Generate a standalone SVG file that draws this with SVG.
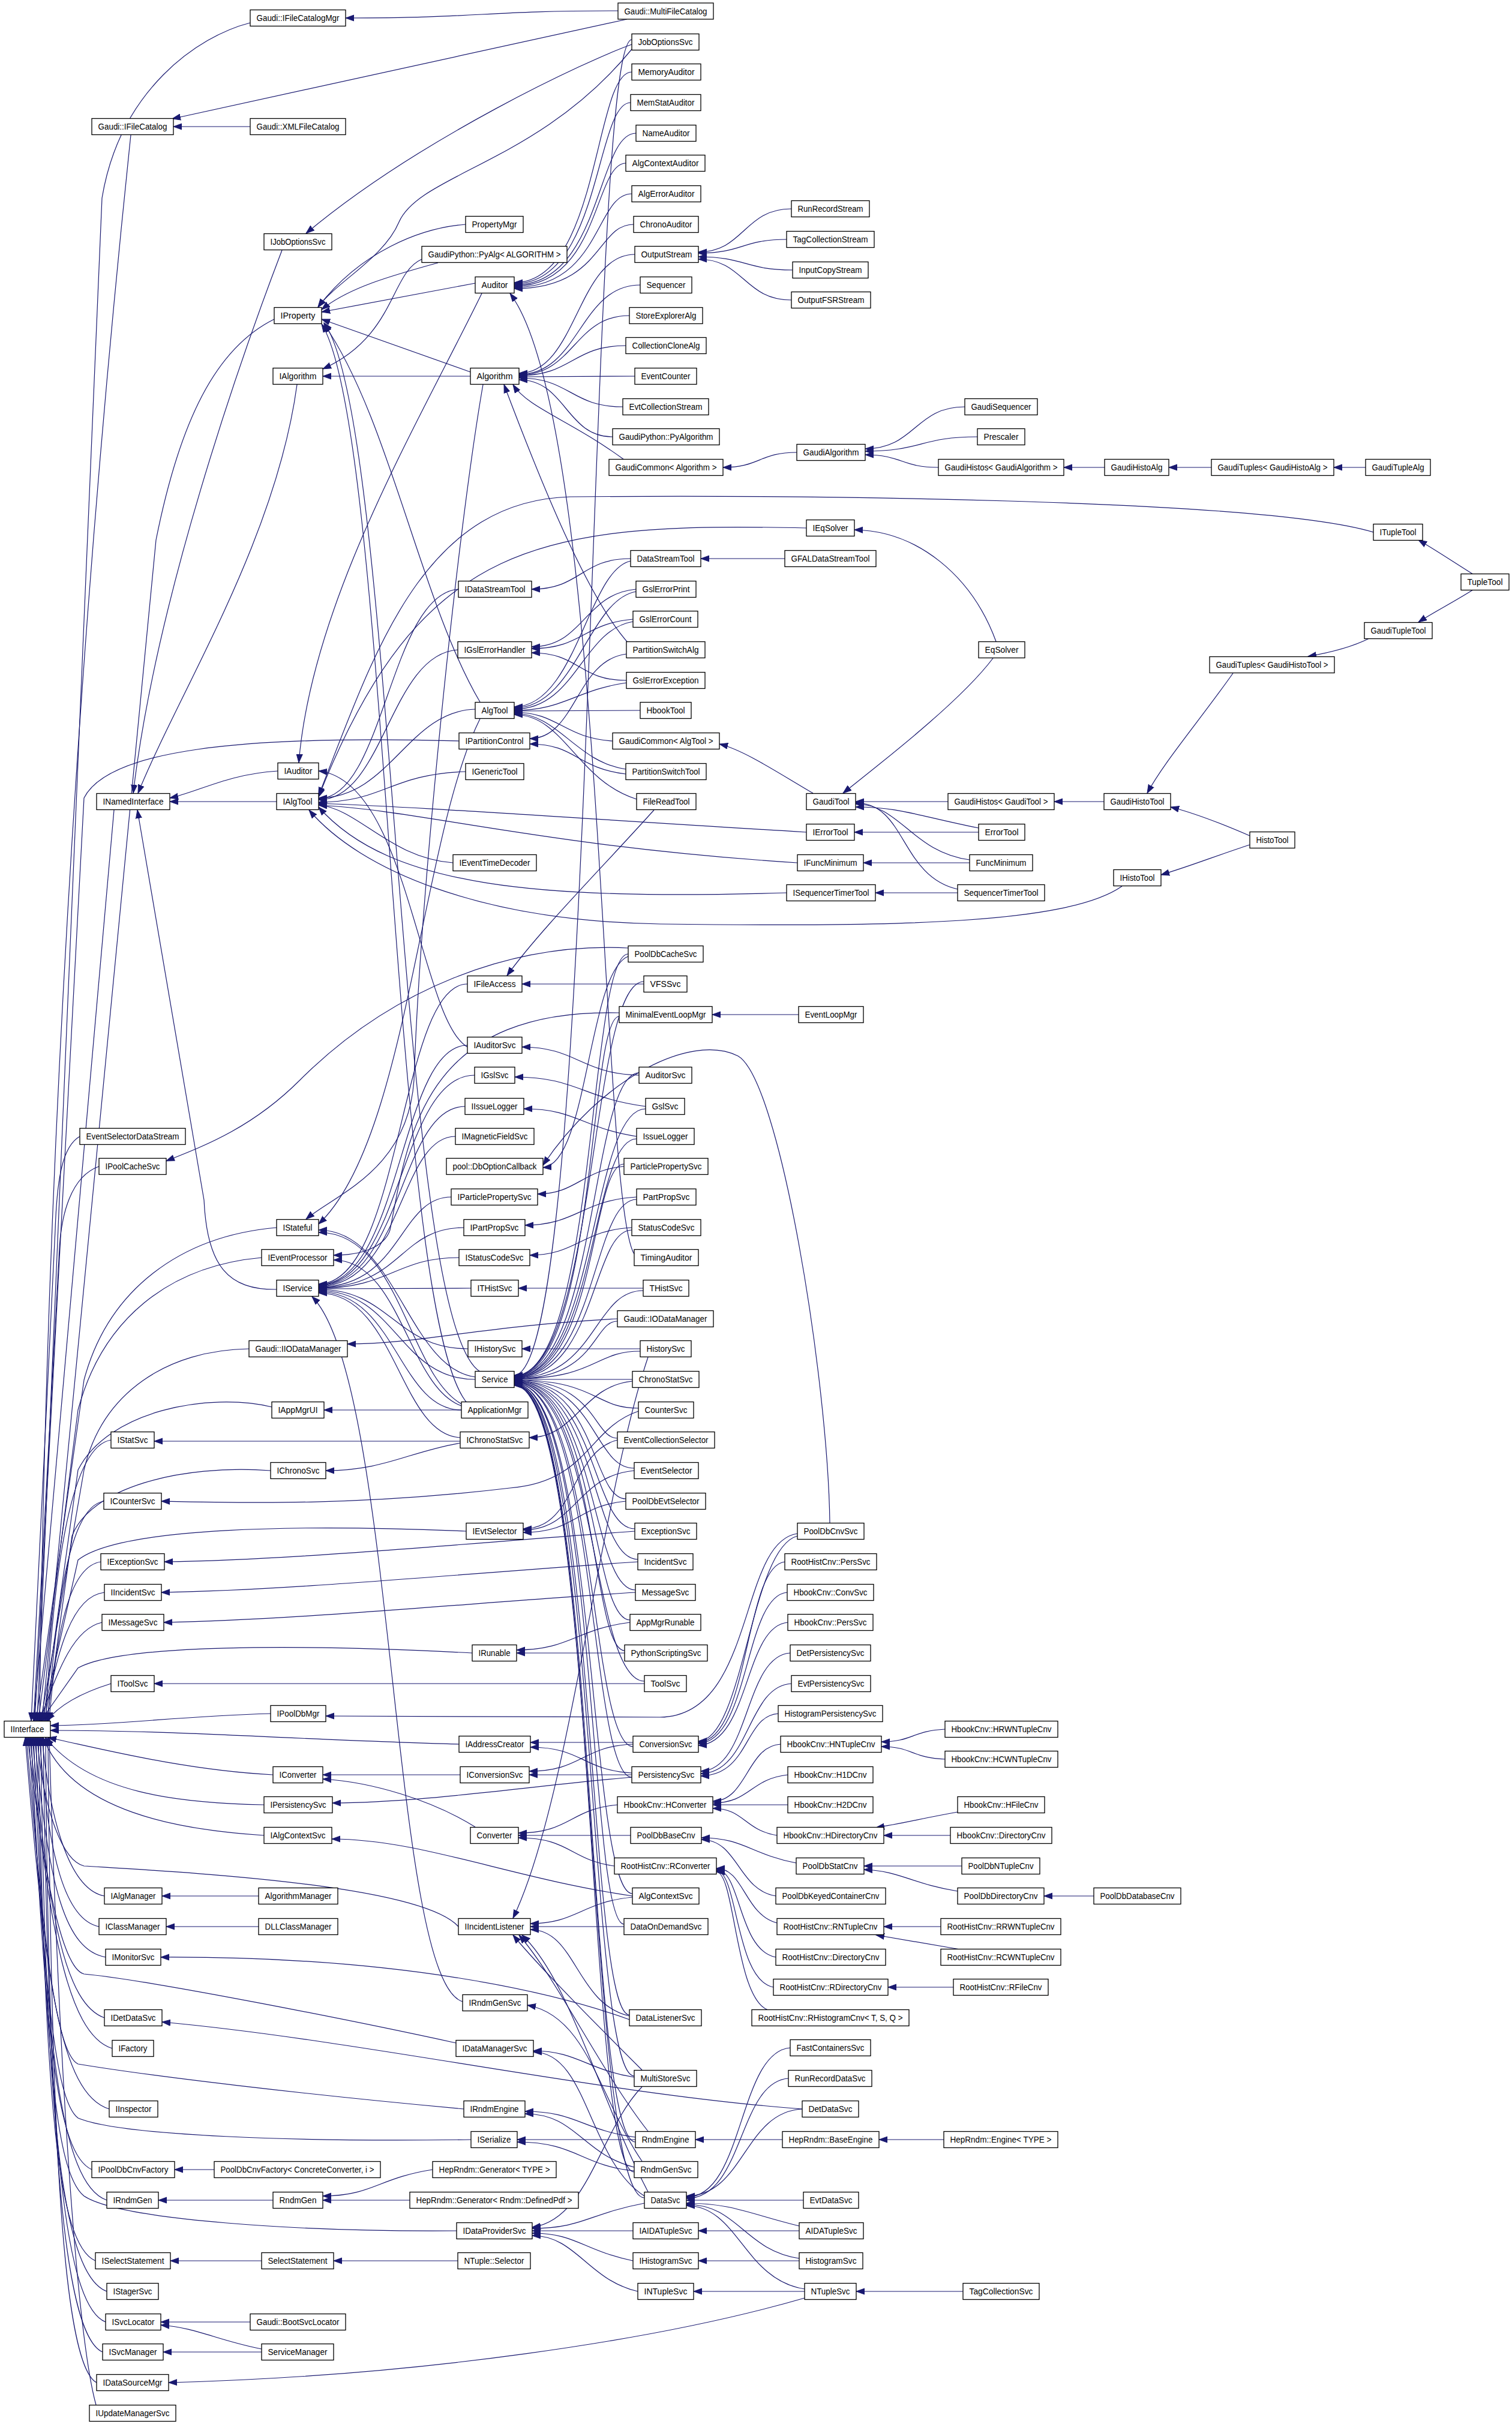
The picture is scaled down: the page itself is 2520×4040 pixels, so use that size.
<svg xmlns="http://www.w3.org/2000/svg" width="2520" height="4040" viewBox="0 0 2520 4040">
<style>
.n rect{fill:#fff;stroke:#000;stroke-width:1.3}
.n text{font-family:"Liberation Sans",Arial,sans-serif;font-size:14px;text-anchor:middle;fill:#000}
#edges path{fill:none;stroke:#191970;stroke-width:1.2;marker-end:url(#a)}
</style>
<defs>
<marker id="a" markerWidth="16" markerHeight="12" refX="14" refY="6" orient="auto" markerUnits="userSpaceOnUse"><path d="M0,1 L14,6 L0,11 z" fill="#191970" stroke="#191970" stroke-width="1"/></marker>
</defs>
<rect width="2520" height="4040" fill="#fff"/>
<g id="edges">
<path d="M1030,18 C803,18 803,30 576,30"/>
<path d="M1045,32 L287,198"/>
<path d="M417,211 L289,211"/>
<path d="M417,38 C330,60 200,150 170,330 L62,2868"/>
<path d="M218,225 C200,400 80,1500 66,2868"/>
<path d="M1053,74 C980,100 700,230 510,389"/>
<path d="M1053,82 C900,270 700,290 665,370 C640,430 560,470 530,512"/>
<path d="M470,417 C400,600 260,1000 222,1322"/>
<path d="M1053,120 C990,120 1000,471 857,471"/>
<path d="M1051,171 C992,171 1002,473 857,473"/>
<path d="M1060,222 C994,222 1004,475 857,475"/>
<path d="M1043,272 C990,272 1000,477 857,477"/>
<path d="M1053,323 C992,323 1002,479 857,479"/>
<path d="M1056,374 C994,374 1004,481 857,481"/>
<path d="M1057,2090 C1000,2000 1010,700 850,489"/>
<path d="M792,472 L536,520"/>
<path d="M803,489 C700,700 520,1000 498,1271"/>
<path d="M776,374 C700,380 600,420 530,512"/>
<path d="M730,438 C650,460 580,480 536,516"/>
<path d="M703,432 C650,455 660,560 538,615"/>
<path d="M784,627 L538,627"/>
<path d="M784,620 L536,532"/>
<path d="M805,641 C760,900 700,1500 690,1800 C680,1950 560,1990 510,2032"/>
<path d="M495,641 C460,900 300,1150 230,1322"/>
<path d="M457,532 C360,580 300,700 260,900 L70,2868"/>
<path d="M1058,424 C962,424 961,622 865,622"/>
<path d="M1067,475 C966,475 966,624 865,624"/>
<path d="M1049,526 C957,526 957,625 865,625"/>
<path d="M1043,576 C954,576 954,626 865,626"/>
<path d="M1058,627 L865,628"/>
<path d="M1038,678 C951,678 951,630 865,630"/>
<path d="M1021,728 C943,728 943,633 865,633"/>
<path d="M1040,766 C950,700 880,680 855,641"/>
<path d="M1050,1075 C980,1000 900,800 840,641"/>
<path d="M1319,348 C1240,348 1240,420 1164,420"/>
<path d="M1311,399 C1237,399 1237,422 1164,422"/>
<path d="M1321,450 C1242,450 1242,428 1164,428"/>
<path d="M1319,500 C1240,500 1240,432 1164,432"/>
<path d="M1328,754 C1266,754 1266,779 1205,779"/>
<path d="M1608,678 C1525,678 1525,748 1442,748"/>
<path d="M1629,728 C1535,728 1535,752 1442,752"/>
<path d="M1564,779 C1503,779 1503,758 1442,758"/>
<path d="M1841,779 L1773,779"/>
<path d="M2019,779 L1948,779"/>
<path d="M2276,779 L2223,779"/>
<path d="M792,1182 C680,1185 650,1330 531,1330"/>
<path d="M800,1170 C700,1000 650,700 540,540"/>
<path d="M800,1198 C700,1400 680,1900 531,2040"/>
<path d="M764,982 C650,990 640,1331 531,1331"/>
<path d="M763,1083 C650,1090 640,1333 531,1333"/>
<path d="M776,1286 C650,1290 640,1337 531,1337"/>
<path d="M755,1438 C650,1430 600,1350 531,1341"/>
<path d="M1344,880 C900,870 700,900 531,1328"/>
<path d="M2289,887 C2100,830 1300,825 950,828 C700,835 620,1100 531,1326"/>
<path d="M1344,1387 C900,1360 700,1345 531,1339"/>
<path d="M1329,1438 C900,1410 700,1350 531,1342"/>
<path d="M1311,1488 C900,1500 650,1480 531,1345"/>
<path d="M1870,1477 C1780,1540 1500,1545 1100,1540 C800,1535 600,1450 515,1350"/>
<path d="M1051,931 C968,931 968,982 886,982"/>
<path d="M1051,935 C980,950 960,1178 857,1178"/>
<path d="M1308,931 L1168,931"/>
<path d="M1060,982 C973,990 973,1078 886,1078"/>
<path d="M1060,986 C980,1000 960,1180 857,1180"/>
<path d="M1055,1032 C970,1040 970,1081 886,1081"/>
<path d="M1055,1036 C970,1050 960,1182 857,1182"/>
<path d="M1044,1134 C965,1134 965,1088 886,1088"/>
<path d="M1044,1138 C960,1150 940,1184 857,1184"/>
<path d="M1067,1184 L857,1185"/>
<path d="M1021,1235 C940,1230 930,1187 857,1187"/>
<path d="M1043,1282 C960,1270 930,1189 857,1189"/>
<path d="M1043,1290 C960,1280 960,1240 883,1240"/>
<path d="M1044,1090 C960,1100 960,1231 883,1231"/>
<path d="M1061,1332 C960,1300 940,1191 857,1191"/>
<path d="M1090,1350 C1000,1450 900,1550 845,1626"/>
<path d="M765,1235 C400,1225 180,1250 140,1330 L58,2868"/>
<path d="M463,1285 C380,1290 330,1320 283,1330"/>
<path d="M461,1336 L283,1336"/>
<path d="M190,1350 L56,2868"/>
<path d="M1355,1322 C1300,1290 1240,1250 1199,1240"/>
<path d="M1580,1336 L1426,1336"/>
<path d="M1840,1336 L1757,1336"/>
<path d="M1660,1069 C1620,960 1530,885 1424,883"/>
<path d="M1655,1097 C1600,1170 1470,1270 1405,1322"/>
<path d="M1631,1387 L1424,1387"/>
<path d="M1631,1380 C1530,1360 1500,1345 1426,1345"/>
<path d="M1616,1438 L1439,1438"/>
<path d="M1616,1433 C1520,1420 1500,1340 1426,1340"/>
<path d="M1596,1488 L1459,1488"/>
<path d="M1596,1482 C1500,1460 1510,1338 1426,1338"/>
<path d="M2055,1122 C2000,1200 1940,1270 1912,1322"/>
<path d="M2083,1393 C2030,1370 1990,1355 1951,1345"/>
<path d="M2083,1408 C2030,1425 1980,1445 1935,1458"/>
<path d="M2282,1064 C2250,1080 2215,1088 2180,1094"/>
<path d="M2455,983 C2420,1005 2390,1020 2364,1037"/>
<path d="M2455,957 C2420,935 2390,915 2364,900"/>
<path d="M779,1640 C665,1640 670,2140 531,2140"/>
<path d="M779,1742 C665,1742 670,2141 531,2141"/>
<path d="M791,1792 C665,1792 670,2142 531,2142"/>
<path d="M775,1844 C665,1844 670,2143 531,2143"/>
<path d="M759,1894 C665,1894 670,2144 531,2144"/>
<path d="M752,1995 C665,1995 670,2145 531,2145"/>
<path d="M773,2046 C665,2046 670,2146 531,2146"/>
<path d="M765,2096 C660,2096 650,2147 531,2147"/>
<path d="M785,2147 L531,2148"/>
<path d="M780,2248 C660,2248 650,2149 531,2149"/>
<path d="M792,2299 C665,2299 660,2151 531,2151"/>
<path d="M769,2350 C665,2350 660,2153 531,2153"/>
<path d="M767,2396 C665,2390 660,2155 531,2155"/>
<path d="M771,3336 C650,3300 660,2300 520,2161"/>
<path d="M779,1745 C700,1700 680,1300 531,1285"/>
<path d="M461,2149 C380,2150 345,2110 340,2000 L229,1350"/>
<path d="M461,2046 C300,2060 180,2150 140,2300 L60,2868"/>
<path d="M436,2096 C280,2110 170,2200 130,2350 L64,2868"/>
<path d="M415,2248 C280,2250 170,2320 140,2450 L68,2868"/>
<path d="M453,2345 C350,2320 180,2350 130,2450 L72,2868"/>
<path d="M185,2400 C120,2410 90,2600 76,2868"/>
<path d="M451,2451 C300,2440 150,2480 120,2560 L78,2868"/>
<path d="M173,2502 C120,2510 95,2650 80,2868"/>
<path d="M777,2552 C500,2540 200,2545 130,2600 L70,2868"/>
<path d="M168,2603 C120,2610 95,2700 82,2868"/>
<path d="M174,2654 C120,2660 95,2750 74,2868"/>
<path d="M170,2704 C120,2715 95,2790 66,2868"/>
<path d="M787,2755 C500,2740 200,2740 130,2780 L68,2868"/>
<path d="M185,2806 C140,2820 100,2840 78,2868"/>
<path d="M451,2856 C300,2860 200,2875 84,2876"/>
<path d="M765,2907 C500,2900 300,2884 84,2884"/>
<path d="M133,1894 C105,1910 95,1960 92,2050 L52,2868"/>
<path d="M165,1944 C120,1960 100,2020 98,2100 L56,2868"/>
<path d="M800,2286 C660,2200 660,700 540,538"/>
<path d="M792,2295 C680,2280 660,2050 531,2050"/>
<path d="M769,2350 L540,2350"/>
<path d="M775,2345 C680,2320 670,2100 556,2100"/>
<path d="M775,2343 C680,2300 670,2054 531,2054"/>
<path d="M780,2340 C650,2200 650,720 536,540"/>
<path d="M1032,1688 C700,1680 680,1900 650,2050 C640,2080 600,2092 556,2092"/>
<path d="M1331,1691 L1187,1691"/>
<path d="M1065,1792 C970,1790 960,1745 870,1745"/>
<path d="M1076,1844 C970,1830 960,1795 858,1795"/>
<path d="M1061,1894 C970,1880 960,1848 873,1848"/>
<path d="M1040,1944 C970,1950 960,1990 896,1990"/>
<path d="M1061,1995 C970,2000 960,2042 875,2042"/>
<path d="M1053,2046 C970,2050 960,2092 883,2092"/>
<path d="M1072,2147 L864,2147"/>
<path d="M1029,2198 C800,2210 700,2240 579,2240"/>
<path d="M1067,2248 L870,2248"/>
<path d="M1080,2262 C1000,2500 950,3000 855,3197"/>
<path d="M1054,2302 C970,2310 960,2396 882,2396"/>
<path d="M1064,2352 C980,2380 980,2470 850,2480 C600,2510 400,2505 269,2502"/>
<path d="M1029,2400 C950,2420 960,2548 872,2548"/>
<path d="M1057,2451 C960,2460 960,2550 872,2550"/>
<path d="M1043,2502 C960,2510 960,2554 872,2554"/>
<path d="M1058,2552 C800,2570 500,2600 274,2603"/>
<path d="M1063,2603 C800,2620 500,2650 269,2654"/>
<path d="M1059,2654 C800,2670 500,2700 273,2704"/>
<path d="M1050,2704 C960,2715 950,2750 861,2750"/>
<path d="M1041,2755 L861,2755"/>
<path d="M1074,2806 L257,2806"/>
<path d="M1329,2556 C1230,2570 1260,2860 1100,2862 L543,2860"/>
<path d="M1329,2560 C1250,2580 1240,2900 1164,2902"/>
<path d="M1383,2538 C1380,2300 1300,1800 1230,1760 C1150,1720 1000,1800 905,1942"/>
<path d="M1047,1594 C980,1620 980,1940 905,1946"/>
<path d="M1047,1580 C850,1570 650,1650 500,1800 C420,1880 340,1910 277,1935"/>
<path d="M1073,1640 L870,1640"/>
<path d="M1055,2907 C970,2910 970,2952 882,2952"/>
<path d="M1055,2904 L884,2904"/>
<path d="M1053,2958 L882,2958"/>
<path d="M1053,2955 C970,2950 970,2912 884,2912"/>
<path d="M1053,2962 C900,2975 700,3005 554,3005"/>
<path d="M767,2958 L538,2958"/>
<path d="M792,3045 C720,3000 620,2970 538,2965"/>
<path d="M455,2958 C300,2950 150,2910 80,2896"/>
<path d="M440,3008 C300,3005 150,2990 76,2896"/>
<path d="M440,3059 C300,3050 120,3020 72,2896"/>
<path d="M1054,3160 C850,3130 700,3065 553,3065"/>
<path d="M1054,3162 C970,3170 960,3206 884,3206"/>
<path d="M1040,3211 L884,3211"/>
<path d="M1029,3008 C950,3015 950,3055 864,3055"/>
<path d="M1051,3059 L864,3059"/>
<path d="M1024,3110 C950,3100 950,3063 864,3063"/>
<path d="M1301,2907 C1245,2910 1245,3002 1188,3002"/>
<path d="M1313,2958 C1250,2965 1250,3005 1188,3005"/>
<path d="M1313,3008 L1188,3008"/>
<path d="M1295,3059 C1240,3050 1240,3014 1188,3014"/>
<path d="M1575,2882 C1520,2885 1520,2903 1469,2903"/>
<path d="M1575,2932 C1520,2930 1520,2911 1469,2911"/>
<path d="M1596,3020 C1540,3030 1500,3040 1460,3046"/>
<path d="M1584,3059 L1473,3059"/>
<path d="M1327,3105 C1250,3090 1240,3063 1169,3063"/>
<path d="M1293,3160 C1230,3150 1230,3066 1169,3066"/>
<path d="M1603,3110 L1440,3110"/>
<path d="M1596,3152 C1520,3140 1500,3118 1440,3116"/>
<path d="M1823,3160 L1740,3160"/>
<path d="M1295,3205 C1240,3190 1240,3114 1194,3114"/>
<path d="M1293,3262 C1230,3250 1235,3116 1194,3116"/>
<path d="M1289,3312 C1225,3300 1230,3118 1194,3118"/>
<path d="M1280,3350 C1225,3330 1225,3120 1194,3120"/>
<path d="M1568,3211 L1473,3211"/>
<path d="M1600,3249 C1550,3240 1500,3232 1460,3225"/>
<path d="M1589,3312 L1480,3312"/>
<path d="M1308,2603 C1240,2610 1250,2900 1164,2904"/>
<path d="M1312,2654 C1240,2660 1250,2902 1164,2906"/>
<path d="M1313,2704 C1240,2710 1250,2905 1164,2909"/>
<path d="M1317,2755 C1240,2760 1250,2950 1168,2952"/>
<path d="M1319,2806 C1245,2810 1250,2955 1168,2956"/>
<path d="M1297,2856 C1240,2860 1250,2958 1168,2960"/>
<path d="M1049,3360 C960,3340 960,3216 884,3216"/>
<path d="M1049,3366 C950,3330 700,3260 268,3262"/>
<path d="M1070,3450 C1000,3380 900,3280 855,3225"/>
<path d="M1057,3462 C980,3450 960,3418 889,3418"/>
<path d="M1070,3478 C1000,3550 980,3700 887,3712"/>
<path d="M1080,3552 C1000,3450 930,3300 865,3225"/>
<path d="M1059,3562 C970,3550 960,3519 875,3519"/>
<path d="M1059,3566 L862,3566"/>
<path d="M1070,3602 C1000,3500 980,3360 879,3342"/>
<path d="M1057,3612 C970,3590 960,3523 875,3523"/>
<path d="M1057,3618 C970,3610 960,3570 862,3570"/>
<path d="M1074,3660 C980,3600 980,3420 889,3420"/>
<path d="M1074,3672 C980,3690 970,3714 887,3714"/>
<path d="M1080,3653 C1000,3500 950,3300 870,3225"/>
<path d="M1055,3718 L887,3718"/>
<path d="M1055,3768 C970,3750 960,3722 887,3722"/>
<path d="M1063,3819 C980,3800 960,3726 887,3726"/>
<path d="M1337,3515 C1240,3520 1240,3660 1144,3660"/>
<path d="M1339,3667 L1144,3667"/>
<path d="M1332,3710 C1250,3690 1220,3672 1144,3672"/>
<path d="M1332,3764 C1240,3750 1230,3674 1144,3674"/>
<path d="M1341,3815 C1240,3800 1230,3676 1144,3676"/>
<path d="M1317,3413 C1230,3420 1240,3662 1144,3662"/>
<path d="M1314,3464 C1230,3470 1240,3664 1144,3664"/>
<path d="M1332,3718 L1164,3718"/>
<path d="M1332,3768 L1164,3768"/>
<path d="M1341,3819 L1156,3819"/>
<path d="M1341,3830 C1100,3900 700,3960 281,3971"/>
<path d="M1605,3819 L1427,3819"/>
<path d="M1337,3515 C1000,3490 600,3400 270,3370"/>
<path d="M1304,3566 L1159,3566"/>
<path d="M1573,3566 L1465,3566"/>
<path d="M721,3616 C630,3630 620,3660 538,3660"/>
<path d="M683,3667 L538,3667"/>
<path d="M455,3667 L264,3667"/>
<path d="M357,3616 L291,3616"/>
<path d="M431,3160 L270,3160"/>
<path d="M431,3211 L277,3211"/>
<path d="M436,3768 L284,3768"/>
<path d="M763,3768 L556,3768"/>
<path d="M417,3870 L268,3870"/>
<path d="M436,3920 L272,3920"/>
<path d="M436,3915 C360,3900 330,3880 268,3875"/>
<path d="M174,3160 C120,3150 85,3050 70,2896"/>
<path d="M165,3211 C110,3200 80,3100 66,2896"/>
<path d="M764,3211 C700,3140 300,3120 140,3110 C100,3100 70,3000 62,2896"/>
<path d="M176,3262 C110,3250 80,3150 58,2896"/>
<path d="M174,3363 C110,3340 80,3200 54,2896"/>
<path d="M187,3414 C110,3390 80,3200 50,2896"/>
<path d="M760,3405 C600,3370 250,3300 140,3290 C100,3280 70,3100 46,2896"/>
<path d="M182,3515 C100,3490 75,3300 42,2896"/>
<path d="M773,3515 C500,3490 250,3460 130,3440 C90,3420 70,3200 44,2896"/>
<path d="M785,3566 C500,3570 200,3560 130,3530 C90,3500 75,3300 48,2896"/>
<path d="M153,3616 C95,3590 75,3400 52,2896"/>
<path d="M178,3667 C100,3640 75,3400 56,2896"/>
<path d="M761,3718 C500,3720 200,3700 140,3660 C90,3620 75,3400 60,2896"/>
<path d="M159,3768 C95,3740 75,3500 64,2896"/>
<path d="M178,3819 C100,3790 75,3500 68,2896"/>
<path d="M176,3870 C100,3840 80,3500 72,2896"/>
<path d="M171,3920 C100,3890 80,3500 76,2896"/>
<path d="M161,3971 C100,3940 85,3500 80,2896"/>
<path d="M160,4008 C130,3900 100,3500 82,2896"/>
<path d="M767,2402 L257,2402"/>
<path d="M767,2405 C680,2420 640,2451 543,2451"/>
<path d="M1053,66 C978,66 995,2292 857,2292"/>
<path d="M1047,1590 C980,1590 995,2293 857,2293"/>
<path d="M1073,1636 C982,1636 995,2293 857,2293"/>
<path d="M1032,1694 C980,1694 995,2294 857,2294"/>
<path d="M1065,1788 C984,1788 995,2294 857,2294"/>
<path d="M1076,1848 C984,1848 995,2295 857,2295"/>
<path d="M1061,1898 C984,1898 995,2295 857,2295"/>
<path d="M1040,1940 C984,1940 995,2296 857,2296"/>
<path d="M1061,1999 C986,1999 995,2296 857,2296"/>
<path d="M1053,2050 C986,2050 995,2297 857,2297"/>
<path d="M1072,2151 C988,2151 995,2297 857,2297"/>
<path d="M1029,2202 C988,2202 995,2298 857,2298"/>
<path d="M1067,2252 C990,2252 995,2298 857,2298"/>
<path d="M1054,2299 L857,2299"/>
<path d="M1064,2347 C990,2347 995,2300 857,2300"/>
<path d="M1029,2397 C988,2397 995,2300 857,2300"/>
<path d="M1057,2447 C988,2447 995,2301 857,2301"/>
<path d="M1043,2498 C986,2498 995,2301 857,2301"/>
<path d="M1058,2548 C986,2548 995,2302 857,2302"/>
<path d="M1063,2599 C986,2599 995,2302 857,2302"/>
<path d="M1059,2650 C984,2650 995,2303 857,2303"/>
<path d="M1050,2700 C984,2700 995,2303 857,2303"/>
<path d="M1041,2751 C984,2751 995,2304 857,2304"/>
<path d="M1074,2802 C984,2802 995,2304 857,2304"/>
<path d="M1055,2911 C982,2911 995,2305 857,2305"/>
<path d="M1053,2962 C982,2962 995,2305 857,2305"/>
<path d="M1054,3156 C980,3156 995,2306 857,2306"/>
<path d="M1040,3207 C980,3207 995,2306 857,2306"/>
<path d="M1049,3358 C978,3358 995,2307 857,2307"/>
<path d="M1057,3460 C978,3460 995,2307 857,2307"/>
<path d="M1059,3570 C976,3570 995,2308 857,2308"/>
<path d="M1057,3620 C976,3620 995,2308 857,2308"/>
<path d="M1074,3663 C976,3663 995,2309 857,2309"/>
</g>
<g id="n_IInterface" class="n"><rect x="7" y="2868.5" width="77" height="27"/><text x="45.5" y="2887" textLength="56" lengthAdjust="spacingAndGlyphs">IInterface</text></g>
<g id="n_IFileCatalog" class="n"><rect x="153" y="197.5" width="136" height="27"/><text x="221" y="216" textLength="115" lengthAdjust="spacingAndGlyphs">Gaudi::IFileCatalog</text></g>
<g id="n_INamedInterface" class="n"><rect x="161" y="1322.5" width="122" height="27"/><text x="222" y="1341" textLength="101" lengthAdjust="spacingAndGlyphs">INamedInterface</text></g>
<g id="n_EventSelectorDataStream" class="n"><rect x="133" y="1880.5" width="176" height="27"/><text x="221" y="1899" textLength="155" lengthAdjust="spacingAndGlyphs">EventSelectorDataStream</text></g>
<g id="n_IPoolCacheSvc" class="n"><rect x="165" y="1930.5" width="112" height="27"/><text x="221" y="1949" textLength="91" lengthAdjust="spacingAndGlyphs">IPoolCacheSvc</text></g>
<g id="n_IStatSvc" class="n"><rect x="185" y="2386.5" width="72" height="27"/><text x="221" y="2405" textLength="51" lengthAdjust="spacingAndGlyphs">IStatSvc</text></g>
<g id="n_ICounterSvc" class="n"><rect x="173" y="2488.5" width="96" height="27"/><text x="221" y="2507" textLength="75" lengthAdjust="spacingAndGlyphs">ICounterSvc</text></g>
<g id="n_IExceptionSvc" class="n"><rect x="168" y="2589.5" width="106" height="27"/><text x="221" y="2608" textLength="85" lengthAdjust="spacingAndGlyphs">IExceptionSvc</text></g>
<g id="n_IIncidentSvc" class="n"><rect x="174" y="2640.5" width="95" height="27"/><text x="221.5" y="2659" textLength="74" lengthAdjust="spacingAndGlyphs">IIncidentSvc</text></g>
<g id="n_IMessageSvc" class="n"><rect x="170" y="2690.5" width="103" height="27"/><text x="221.5" y="2709" textLength="82" lengthAdjust="spacingAndGlyphs">IMessageSvc</text></g>
<g id="n_IToolSvc" class="n"><rect x="185" y="2792.5" width="72" height="27"/><text x="221" y="2811" textLength="51" lengthAdjust="spacingAndGlyphs">IToolSvc</text></g>
<g id="n_IAlgManager" class="n"><rect x="174" y="3146.5" width="96" height="27"/><text x="222" y="3165" textLength="75" lengthAdjust="spacingAndGlyphs">IAlgManager</text></g>
<g id="n_IClassManager" class="n"><rect x="165" y="3197.5" width="112" height="27"/><text x="221" y="3216" textLength="91" lengthAdjust="spacingAndGlyphs">IClassManager</text></g>
<g id="n_IMonitorSvc" class="n"><rect x="176" y="3248.5" width="92" height="27"/><text x="222" y="3267" textLength="71" lengthAdjust="spacingAndGlyphs">IMonitorSvc</text></g>
<g id="n_IDetDataSvc" class="n"><rect x="174" y="3349.5" width="96" height="27"/><text x="222" y="3368" textLength="75" lengthAdjust="spacingAndGlyphs">IDetDataSvc</text></g>
<g id="n_IFactory" class="n"><rect x="187" y="3400.5" width="69" height="27"/><text x="221.5" y="3419" textLength="48" lengthAdjust="spacingAndGlyphs">IFactory</text></g>
<g id="n_IInspector" class="n"><rect x="182" y="3501.5" width="81" height="27"/><text x="222.5" y="3520" textLength="60" lengthAdjust="spacingAndGlyphs">IInspector</text></g>
<g id="n_IPoolDbCnvFactory" class="n"><rect x="153" y="3602.5" width="138" height="27"/><text x="222" y="3621" textLength="117" lengthAdjust="spacingAndGlyphs">IPoolDbCnvFactory</text></g>
<g id="n_IRndmGen" class="n"><rect x="178" y="3653.5" width="86" height="27"/><text x="221" y="3672" textLength="65" lengthAdjust="spacingAndGlyphs">IRndmGen</text></g>
<g id="n_ISelectStatement" class="n"><rect x="159" y="3754.5" width="125" height="27"/><text x="221.5" y="3773" textLength="104" lengthAdjust="spacingAndGlyphs">ISelectStatement</text></g>
<g id="n_IStagerSvc" class="n"><rect x="178" y="3805.5" width="86" height="27"/><text x="221" y="3824" textLength="65" lengthAdjust="spacingAndGlyphs">IStagerSvc</text></g>
<g id="n_ISvcLocator" class="n"><rect x="176" y="3856.5" width="92" height="27"/><text x="222" y="3875" textLength="71" lengthAdjust="spacingAndGlyphs">ISvcLocator</text></g>
<g id="n_ISvcManager" class="n"><rect x="171" y="3906.5" width="101" height="27"/><text x="221.5" y="3925" textLength="80" lengthAdjust="spacingAndGlyphs">ISvcManager</text></g>
<g id="n_IDataSourceMgr" class="n"><rect x="161" y="3957.5" width="120" height="27"/><text x="221" y="3976" textLength="99" lengthAdjust="spacingAndGlyphs">IDataSourceMgr</text></g>
<g id="n_IUpdateManagerSvc" class="n"><rect x="149" y="4008.5" width="144" height="27"/><text x="221" y="4027" textLength="123" lengthAdjust="spacingAndGlyphs">IUpdateManagerSvc</text></g>
<g id="n_IFileCatalogMgr" class="n"><rect x="417" y="16.5" width="159" height="27"/><text x="496.5" y="35" textLength="138" lengthAdjust="spacingAndGlyphs">Gaudi::IFileCatalogMgr</text></g>
<g id="n_XMLFileCatalog" class="n"><rect x="417" y="197.5" width="159" height="27"/><text x="496.5" y="216" textLength="138" lengthAdjust="spacingAndGlyphs">Gaudi::XMLFileCatalog</text></g>
<g id="n_IJobOptionsSvc" class="n"><rect x="440" y="389.5" width="113" height="27"/><text x="496.5" y="408" textLength="92" lengthAdjust="spacingAndGlyphs">IJobOptionsSvc</text></g>
<g id="n_IProperty" class="n"><rect x="457" y="512.5" width="79" height="27"/><text x="496.5" y="531" textLength="58" lengthAdjust="spacingAndGlyphs">IProperty</text></g>
<g id="n_IAlgorithm" class="n"><rect x="455" y="613.5" width="83" height="27"/><text x="496.5" y="632" textLength="62" lengthAdjust="spacingAndGlyphs">IAlgorithm</text></g>
<g id="n_IAuditor" class="n"><rect x="463" y="1271.5" width="68" height="27"/><text x="497" y="1290" textLength="47" lengthAdjust="spacingAndGlyphs">IAuditor</text></g>
<g id="n_IAlgTool" class="n"><rect x="461" y="1322.5" width="70" height="27"/><text x="496" y="1341" textLength="49" lengthAdjust="spacingAndGlyphs">IAlgTool</text></g>
<g id="n_IStateful" class="n"><rect x="461" y="2032.5" width="70" height="27"/><text x="496" y="2051" textLength="49" lengthAdjust="spacingAndGlyphs">IStateful</text></g>
<g id="n_IEventProcessor" class="n"><rect x="436" y="2082.5" width="120" height="27"/><text x="496" y="2101" textLength="99" lengthAdjust="spacingAndGlyphs">IEventProcessor</text></g>
<g id="n_IService" class="n"><rect x="461" y="2133.5" width="70" height="27"/><text x="496" y="2152" textLength="49" lengthAdjust="spacingAndGlyphs">IService</text></g>
<g id="n_IIODataManager" class="n"><rect x="415" y="2234.5" width="164" height="27"/><text x="497" y="2253" textLength="143" lengthAdjust="spacingAndGlyphs">Gaudi::IIODataManager</text></g>
<g id="n_IAppMgrUI" class="n"><rect x="453" y="2336.5" width="87" height="27"/><text x="496.5" y="2355" textLength="66" lengthAdjust="spacingAndGlyphs">IAppMgrUI</text></g>
<g id="n_IChronoSvc" class="n"><rect x="451" y="2437.5" width="92" height="27"/><text x="497" y="2456" textLength="71" lengthAdjust="spacingAndGlyphs">IChronoSvc</text></g>
<g id="n_IPoolDbMgr" class="n"><rect x="451" y="2842.5" width="92" height="27"/><text x="497" y="2861" textLength="71" lengthAdjust="spacingAndGlyphs">IPoolDbMgr</text></g>
<g id="n_IConverter" class="n"><rect x="455" y="2944.5" width="83" height="27"/><text x="496.5" y="2963" textLength="62" lengthAdjust="spacingAndGlyphs">IConverter</text></g>
<g id="n_IPersistencySvc" class="n"><rect x="440" y="2994.5" width="114" height="27"/><text x="497" y="3013" textLength="93" lengthAdjust="spacingAndGlyphs">IPersistencySvc</text></g>
<g id="n_IAlgContextSvc" class="n"><rect x="440" y="3045.5" width="113" height="27"/><text x="496.5" y="3064" textLength="92" lengthAdjust="spacingAndGlyphs">IAlgContextSvc</text></g>
<g id="n_AlgorithmManager" class="n"><rect x="431" y="3146.5" width="132" height="27"/><text x="497" y="3165" textLength="111" lengthAdjust="spacingAndGlyphs">AlgorithmManager</text></g>
<g id="n_DLLClassManager" class="n"><rect x="431" y="3197.5" width="132" height="27"/><text x="497" y="3216" textLength="111" lengthAdjust="spacingAndGlyphs">DLLClassManager</text></g>
<g id="n_PoolDbCnvFactory" class="n"><rect x="357" y="3602.5" width="277" height="27"/><text x="495.5" y="3621" textLength="256" lengthAdjust="spacingAndGlyphs">PoolDbCnvFactory&lt; ConcreteConverter, i &gt;</text></g>
<g id="n_RndmGen" class="n"><rect x="455" y="3653.5" width="83" height="27"/><text x="496.5" y="3672" textLength="62" lengthAdjust="spacingAndGlyphs">RndmGen</text></g>
<g id="n_SelectStatement" class="n"><rect x="436" y="3754.5" width="120" height="27"/><text x="496" y="3773" textLength="99" lengthAdjust="spacingAndGlyphs">SelectStatement</text></g>
<g id="n_BootSvcLocator" class="n"><rect x="417" y="3856.5" width="159" height="27"/><text x="496.5" y="3875" textLength="138" lengthAdjust="spacingAndGlyphs">Gaudi::BootSvcLocator</text></g>
<g id="n_ServiceManager" class="n"><rect x="436" y="3906.5" width="120" height="27"/><text x="496" y="3925" textLength="99" lengthAdjust="spacingAndGlyphs">ServiceManager</text></g>
<g id="n_PropertyMgr" class="n"><rect x="776" y="360.5" width="96" height="27"/><text x="824" y="379" textLength="75" lengthAdjust="spacingAndGlyphs">PropertyMgr</text></g>
<g id="n_PyAlg" class="n"><rect x="703" y="410.5" width="242" height="27"/><text x="824" y="429" textLength="221" lengthAdjust="spacingAndGlyphs">GaudiPython::PyAlg&lt; ALGORITHM &gt;</text></g>
<g id="n_Auditor" class="n"><rect x="792" y="461.5" width="65" height="27"/><text x="824.5" y="480" textLength="44" lengthAdjust="spacingAndGlyphs">Auditor</text></g>
<g id="n_Algorithm" class="n"><rect x="784" y="613.5" width="81" height="27"/><text x="824.5" y="632" textLength="60" lengthAdjust="spacingAndGlyphs">Algorithm</text></g>
<g id="n_IDataStreamTool" class="n"><rect x="764" y="968.5" width="122" height="27"/><text x="825" y="987" textLength="101" lengthAdjust="spacingAndGlyphs">IDataStreamTool</text></g>
<g id="n_IGslErrorHandler" class="n"><rect x="763" y="1069.5" width="123" height="27"/><text x="824.5" y="1088" textLength="102" lengthAdjust="spacingAndGlyphs">IGslErrorHandler</text></g>
<g id="n_AlgTool" class="n"><rect x="792" y="1170.5" width="65" height="27"/><text x="824.5" y="1189" textLength="44" lengthAdjust="spacingAndGlyphs">AlgTool</text></g>
<g id="n_IPartitionControl" class="n"><rect x="765" y="1221.5" width="118" height="27"/><text x="824" y="1240" textLength="97" lengthAdjust="spacingAndGlyphs">IPartitionControl</text></g>
<g id="n_IGenericTool" class="n"><rect x="776" y="1272.5" width="97" height="27"/><text x="824.5" y="1291" textLength="76" lengthAdjust="spacingAndGlyphs">IGenericTool</text></g>
<g id="n_IEventTimeDecoder" class="n"><rect x="755" y="1424.5" width="139" height="27"/><text x="824.5" y="1443" textLength="118" lengthAdjust="spacingAndGlyphs">IEventTimeDecoder</text></g>
<g id="n_IFileAccess" class="n"><rect x="779" y="1626.5" width="91" height="27"/><text x="824.5" y="1645" textLength="70" lengthAdjust="spacingAndGlyphs">IFileAccess</text></g>
<g id="n_IAuditorSvc" class="n"><rect x="779" y="1728.5" width="91" height="27"/><text x="824.5" y="1747" textLength="70" lengthAdjust="spacingAndGlyphs">IAuditorSvc</text></g>
<g id="n_IGslSvc" class="n"><rect x="791" y="1778.5" width="67" height="27"/><text x="824.5" y="1797" textLength="46" lengthAdjust="spacingAndGlyphs">IGslSvc</text></g>
<g id="n_IIssueLogger" class="n"><rect x="775" y="1830.5" width="98" height="27"/><text x="824" y="1849" textLength="77" lengthAdjust="spacingAndGlyphs">IIssueLogger</text></g>
<g id="n_IMagneticFieldSvc" class="n"><rect x="759" y="1880.5" width="131" height="27"/><text x="824.5" y="1899" textLength="110" lengthAdjust="spacingAndGlyphs">IMagneticFieldSvc</text></g>
<g id="n_DbOptionCallback" class="n"><rect x="744" y="1930.5" width="161" height="27"/><text x="824.5" y="1949" textLength="140" lengthAdjust="spacingAndGlyphs">pool::DbOptionCallback</text></g>
<g id="n_IParticlePropertySvc" class="n"><rect x="752" y="1981.5" width="144" height="27"/><text x="824" y="2000" textLength="123" lengthAdjust="spacingAndGlyphs">IParticlePropertySvc</text></g>
<g id="n_IPartPropSvc" class="n"><rect x="773" y="2032.5" width="102" height="27"/><text x="824" y="2051" textLength="81" lengthAdjust="spacingAndGlyphs">IPartPropSvc</text></g>
<g id="n_IStatusCodeSvc" class="n"><rect x="765" y="2082.5" width="118" height="27"/><text x="824" y="2101" textLength="97" lengthAdjust="spacingAndGlyphs">IStatusCodeSvc</text></g>
<g id="n_ITHistSvc" class="n"><rect x="785" y="2133.5" width="79" height="27"/><text x="824.5" y="2152" textLength="58" lengthAdjust="spacingAndGlyphs">ITHistSvc</text></g>
<g id="n_IHistorySvc" class="n"><rect x="780" y="2234.5" width="90" height="27"/><text x="825" y="2253" textLength="69" lengthAdjust="spacingAndGlyphs">IHistorySvc</text></g>
<g id="n_Service" class="n"><rect x="792" y="2285.5" width="65" height="27"/><text x="824.5" y="2304" textLength="44" lengthAdjust="spacingAndGlyphs">Service</text></g>
<g id="n_ApplicationMgr" class="n"><rect x="769" y="2336.5" width="111" height="27"/><text x="824.5" y="2355" textLength="90" lengthAdjust="spacingAndGlyphs">ApplicationMgr</text></g>
<g id="n_IChronoStatSvc" class="n"><rect x="767" y="2386.5" width="115" height="27"/><text x="824.5" y="2405" textLength="94" lengthAdjust="spacingAndGlyphs">IChronoStatSvc</text></g>
<g id="n_IEvtSelector" class="n"><rect x="777" y="2538.5" width="95" height="27"/><text x="824.5" y="2557" textLength="74" lengthAdjust="spacingAndGlyphs">IEvtSelector</text></g>
<g id="n_IRunable" class="n"><rect x="787" y="2741.5" width="74" height="27"/><text x="824" y="2760" textLength="53" lengthAdjust="spacingAndGlyphs">IRunable</text></g>
<g id="n_IAddressCreator" class="n"><rect x="765" y="2893.5" width="119" height="27"/><text x="824.5" y="2912" textLength="98" lengthAdjust="spacingAndGlyphs">IAddressCreator</text></g>
<g id="n_IConversionSvc" class="n"><rect x="767" y="2944.5" width="115" height="27"/><text x="824.5" y="2963" textLength="94" lengthAdjust="spacingAndGlyphs">IConversionSvc</text></g>
<g id="n_Converter" class="n"><rect x="784" y="3045.5" width="80" height="27"/><text x="824" y="3064" textLength="59" lengthAdjust="spacingAndGlyphs">Converter</text></g>
<g id="n_IIncidentListener" class="n"><rect x="764" y="3197.5" width="120" height="27"/><text x="824" y="3216" textLength="99" lengthAdjust="spacingAndGlyphs">IIncidentListener</text></g>
<g id="n_IRndmGenSvc" class="n"><rect x="771" y="3324.5" width="108" height="27"/><text x="825" y="3343" textLength="87" lengthAdjust="spacingAndGlyphs">IRndmGenSvc</text></g>
<g id="n_IDataManagerSvc" class="n"><rect x="760" y="3400.5" width="129" height="27"/><text x="824.5" y="3419" textLength="108" lengthAdjust="spacingAndGlyphs">IDataManagerSvc</text></g>
<g id="n_IRndmEngine" class="n"><rect x="773" y="3501.5" width="102" height="27"/><text x="824" y="3520" textLength="81" lengthAdjust="spacingAndGlyphs">IRndmEngine</text></g>
<g id="n_ISerialize" class="n"><rect x="785" y="3552.5" width="77" height="27"/><text x="823.5" y="3571" textLength="56" lengthAdjust="spacingAndGlyphs">ISerialize</text></g>
<g id="n_GeneratorT" class="n"><rect x="721" y="3602.5" width="206" height="27"/><text x="824" y="3621" textLength="185" lengthAdjust="spacingAndGlyphs">HepRndm::Generator&lt; TYPE &gt;</text></g>
<g id="n_GeneratorPdf" class="n"><rect x="683" y="3653.5" width="281" height="27"/><text x="823.5" y="3672" textLength="260" lengthAdjust="spacingAndGlyphs">HepRndm::Generator&lt; Rndm::DefinedPdf &gt;</text></g>
<g id="n_IDataProviderSvc" class="n"><rect x="761" y="3704.5" width="126" height="27"/><text x="824" y="3723" textLength="105" lengthAdjust="spacingAndGlyphs">IDataProviderSvc</text></g>
<g id="n_NTupleSelector" class="n"><rect x="763" y="3754.5" width="121" height="27"/><text x="823.5" y="3773" textLength="100" lengthAdjust="spacingAndGlyphs">NTuple::Selector</text></g>
<g id="n_MultiFileCatalog" class="n"><rect x="1030" y="5" width="159" height="27"/><text x="1109.5" y="23.5" textLength="138" lengthAdjust="spacingAndGlyphs">Gaudi::MultiFileCatalog</text></g>
<g id="n_JobOptionsSvc" class="n"><rect x="1053" y="56.5" width="112" height="27"/><text x="1109" y="75" textLength="91" lengthAdjust="spacingAndGlyphs">JobOptionsSvc</text></g>
<g id="n_MemoryAuditor" class="n"><rect x="1053" y="106.5" width="115" height="27"/><text x="1110.5" y="125" textLength="94" lengthAdjust="spacingAndGlyphs">MemoryAuditor</text></g>
<g id="n_MemStatAuditor" class="n"><rect x="1051" y="157.5" width="117" height="27"/><text x="1109.5" y="176" textLength="96" lengthAdjust="spacingAndGlyphs">MemStatAuditor</text></g>
<g id="n_NameAuditor" class="n"><rect x="1060" y="208.5" width="100" height="27"/><text x="1110" y="227" textLength="79" lengthAdjust="spacingAndGlyphs">NameAuditor</text></g>
<g id="n_AlgContextAuditor" class="n"><rect x="1043" y="258.5" width="132" height="27"/><text x="1109" y="277" textLength="111" lengthAdjust="spacingAndGlyphs">AlgContextAuditor</text></g>
<g id="n_AlgErrorAuditor" class="n"><rect x="1053" y="309.5" width="115" height="27"/><text x="1110.5" y="328" textLength="94" lengthAdjust="spacingAndGlyphs">AlgErrorAuditor</text></g>
<g id="n_ChronoAuditor" class="n"><rect x="1056" y="360.5" width="108" height="27"/><text x="1110" y="379" textLength="87" lengthAdjust="spacingAndGlyphs">ChronoAuditor</text></g>
<g id="n_OutputStream" class="n"><rect x="1058" y="410.5" width="106" height="27"/><text x="1111" y="429" textLength="85" lengthAdjust="spacingAndGlyphs">OutputStream</text></g>
<g id="n_Sequencer" class="n"><rect x="1067" y="461.5" width="86" height="27"/><text x="1110" y="480" textLength="65" lengthAdjust="spacingAndGlyphs">Sequencer</text></g>
<g id="n_StoreExplorerAlg" class="n"><rect x="1049" y="512.5" width="122" height="27"/><text x="1110" y="531" textLength="101" lengthAdjust="spacingAndGlyphs">StoreExplorerAlg</text></g>
<g id="n_CollectionCloneAlg" class="n"><rect x="1043" y="562.5" width="134" height="27"/><text x="1110" y="581" textLength="113" lengthAdjust="spacingAndGlyphs">CollectionCloneAlg</text></g>
<g id="n_EventCounter" class="n"><rect x="1058" y="613.5" width="103" height="27"/><text x="1109.5" y="632" textLength="82" lengthAdjust="spacingAndGlyphs">EventCounter</text></g>
<g id="n_EvtCollectionStream" class="n"><rect x="1038" y="664.5" width="143" height="27"/><text x="1109.5" y="683" textLength="122" lengthAdjust="spacingAndGlyphs">EvtCollectionStream</text></g>
<g id="n_PyAlgorithm" class="n"><rect x="1021" y="714.5" width="178" height="27"/><text x="1110" y="733" textLength="157" lengthAdjust="spacingAndGlyphs">GaudiPython::PyAlgorithm</text></g>
<g id="n_GaudiCommonAlg" class="n"><rect x="1015" y="765.5" width="190" height="27"/><text x="1110" y="784" textLength="169" lengthAdjust="spacingAndGlyphs">GaudiCommon&lt; Algorithm &gt;</text></g>
<g id="n_DataStreamTool" class="n"><rect x="1051" y="917.5" width="117" height="27"/><text x="1109.5" y="936" textLength="96" lengthAdjust="spacingAndGlyphs">DataStreamTool</text></g>
<g id="n_GslErrorPrint" class="n"><rect x="1060" y="968.5" width="100" height="27"/><text x="1110" y="987" textLength="79" lengthAdjust="spacingAndGlyphs">GslErrorPrint</text></g>
<g id="n_GslErrorCount" class="n"><rect x="1055" y="1018.5" width="108" height="27"/><text x="1109" y="1037" textLength="87" lengthAdjust="spacingAndGlyphs">GslErrorCount</text></g>
<g id="n_PartitionSwitchAlg" class="n"><rect x="1044" y="1069.5" width="131" height="27"/><text x="1109.5" y="1088" textLength="110" lengthAdjust="spacingAndGlyphs">PartitionSwitchAlg</text></g>
<g id="n_GslErrorException" class="n"><rect x="1044" y="1120.5" width="131" height="27"/><text x="1109.5" y="1139" textLength="110" lengthAdjust="spacingAndGlyphs">GslErrorException</text></g>
<g id="n_HbookTool" class="n"><rect x="1067" y="1170.5" width="85" height="27"/><text x="1109.5" y="1189" textLength="64" lengthAdjust="spacingAndGlyphs">HbookTool</text></g>
<g id="n_GaudiCommonTool" class="n"><rect x="1021" y="1221.5" width="178" height="27"/><text x="1110" y="1240" textLength="157" lengthAdjust="spacingAndGlyphs">GaudiCommon&lt; AlgTool &gt;</text></g>
<g id="n_PartitionSwitchTool" class="n"><rect x="1043" y="1272.5" width="134" height="27"/><text x="1110" y="1291" textLength="113" lengthAdjust="spacingAndGlyphs">PartitionSwitchTool</text></g>
<g id="n_FileReadTool" class="n"><rect x="1061" y="1322.5" width="99" height="27"/><text x="1110.5" y="1341" textLength="78" lengthAdjust="spacingAndGlyphs">FileReadTool</text></g>
<g id="n_PoolDbCacheSvc" class="n"><rect x="1047" y="1576.5" width="125" height="27"/><text x="1109.5" y="1595" textLength="104" lengthAdjust="spacingAndGlyphs">PoolDbCacheSvc</text></g>
<g id="n_VFSSvc" class="n"><rect x="1073" y="1626.5" width="72" height="27"/><text x="1109" y="1645" textLength="51" lengthAdjust="spacingAndGlyphs">VFSSvc</text></g>
<g id="n_MinimalEventLoopMgr" class="n"><rect x="1032" y="1677.5" width="155" height="27"/><text x="1109.5" y="1696" textLength="134" lengthAdjust="spacingAndGlyphs">MinimalEventLoopMgr</text></g>
<g id="n_AuditorSvc" class="n"><rect x="1065" y="1778.5" width="88" height="27"/><text x="1109" y="1797" textLength="67" lengthAdjust="spacingAndGlyphs">AuditorSvc</text></g>
<g id="n_GslSvc" class="n"><rect x="1076" y="1830.5" width="65" height="27"/><text x="1108.5" y="1849" textLength="44" lengthAdjust="spacingAndGlyphs">GslSvc</text></g>
<g id="n_IssueLogger" class="n"><rect x="1061" y="1880.5" width="96" height="27"/><text x="1109" y="1899" textLength="75" lengthAdjust="spacingAndGlyphs">IssueLogger</text></g>
<g id="n_ParticlePropertySvc" class="n"><rect x="1040" y="1930.5" width="140" height="27"/><text x="1110" y="1949" textLength="119" lengthAdjust="spacingAndGlyphs">ParticlePropertySvc</text></g>
<g id="n_PartPropSvc" class="n"><rect x="1061" y="1981.5" width="99" height="27"/><text x="1110.5" y="2000" textLength="78" lengthAdjust="spacingAndGlyphs">PartPropSvc</text></g>
<g id="n_StatusCodeSvc" class="n"><rect x="1053" y="2032.5" width="115" height="27"/><text x="1110.5" y="2051" textLength="94" lengthAdjust="spacingAndGlyphs">StatusCodeSvc</text></g>
<g id="n_TimingAuditor" class="n"><rect x="1057" y="2082.5" width="107" height="27"/><text x="1110.5" y="2101" textLength="86" lengthAdjust="spacingAndGlyphs">TimingAuditor</text></g>
<g id="n_THistSvc" class="n"><rect x="1072" y="2133.5" width="76" height="27"/><text x="1110" y="2152" textLength="55" lengthAdjust="spacingAndGlyphs">THistSvc</text></g>
<g id="n_IODataManager" class="n"><rect x="1029" y="2184.5" width="160" height="27"/><text x="1109" y="2203" textLength="139" lengthAdjust="spacingAndGlyphs">Gaudi::IODataManager</text></g>
<g id="n_HistorySvc" class="n"><rect x="1067" y="2234.5" width="85" height="27"/><text x="1109.5" y="2253" textLength="64" lengthAdjust="spacingAndGlyphs">HistorySvc</text></g>
<g id="n_ChronoStatSvc" class="n"><rect x="1054" y="2285.5" width="111" height="27"/><text x="1109.5" y="2304" textLength="90" lengthAdjust="spacingAndGlyphs">ChronoStatSvc</text></g>
<g id="n_CounterSvc" class="n"><rect x="1064" y="2336.5" width="92" height="27"/><text x="1110" y="2355" textLength="71" lengthAdjust="spacingAndGlyphs">CounterSvc</text></g>
<g id="n_EventCollectionSelector" class="n"><rect x="1029" y="2386.5" width="162" height="27"/><text x="1110" y="2405" textLength="141" lengthAdjust="spacingAndGlyphs">EventCollectionSelector</text></g>
<g id="n_EventSelector" class="n"><rect x="1057" y="2437.5" width="107" height="27"/><text x="1110.5" y="2456" textLength="86" lengthAdjust="spacingAndGlyphs">EventSelector</text></g>
<g id="n_PoolDbEvtSelector" class="n"><rect x="1043" y="2488.5" width="133" height="27"/><text x="1109.5" y="2507" textLength="112" lengthAdjust="spacingAndGlyphs">PoolDbEvtSelector</text></g>
<g id="n_ExceptionSvc" class="n"><rect x="1058" y="2538.5" width="103" height="27"/><text x="1109.5" y="2557" textLength="82" lengthAdjust="spacingAndGlyphs">ExceptionSvc</text></g>
<g id="n_IncidentSvc" class="n"><rect x="1063" y="2589.5" width="92" height="27"/><text x="1109" y="2608" textLength="71" lengthAdjust="spacingAndGlyphs">IncidentSvc</text></g>
<g id="n_MessageSvc" class="n"><rect x="1059" y="2640.5" width="100" height="27"/><text x="1109" y="2659" textLength="79" lengthAdjust="spacingAndGlyphs">MessageSvc</text></g>
<g id="n_AppMgrRunable" class="n"><rect x="1050" y="2690.5" width="118" height="27"/><text x="1109" y="2709" textLength="97" lengthAdjust="spacingAndGlyphs">AppMgrRunable</text></g>
<g id="n_PythonScriptingSvc" class="n"><rect x="1041" y="2741.5" width="138" height="27"/><text x="1110" y="2760" textLength="117" lengthAdjust="spacingAndGlyphs">PythonScriptingSvc</text></g>
<g id="n_ToolSvc" class="n"><rect x="1074" y="2792.5" width="70" height="27"/><text x="1109" y="2811" textLength="49" lengthAdjust="spacingAndGlyphs">ToolSvc</text></g>
<g id="n_ConversionSvc" class="n"><rect x="1055" y="2893.5" width="109" height="27"/><text x="1109.5" y="2912" textLength="88" lengthAdjust="spacingAndGlyphs">ConversionSvc</text></g>
<g id="n_PersistencySvc" class="n"><rect x="1053" y="2944.5" width="115" height="27"/><text x="1110.5" y="2963" textLength="94" lengthAdjust="spacingAndGlyphs">PersistencySvc</text></g>
<g id="n_HConverter" class="n"><rect x="1029" y="2994.5" width="159" height="27"/><text x="1108.5" y="3013" textLength="138" lengthAdjust="spacingAndGlyphs">HbookCnv::HConverter</text></g>
<g id="n_PoolDbBaseCnv" class="n"><rect x="1051" y="3045.5" width="118" height="27"/><text x="1110" y="3064" textLength="97" lengthAdjust="spacingAndGlyphs">PoolDbBaseCnv</text></g>
<g id="n_RConverter" class="n"><rect x="1024" y="3096.5" width="170" height="27"/><text x="1109" y="3115" textLength="149" lengthAdjust="spacingAndGlyphs">RootHistCnv::RConverter</text></g>
<g id="n_AlgContextSvc" class="n"><rect x="1054" y="3146.5" width="111" height="27"/><text x="1109.5" y="3165" textLength="90" lengthAdjust="spacingAndGlyphs">AlgContextSvc</text></g>
<g id="n_DataOnDemandSvc" class="n"><rect x="1040" y="3197.5" width="140" height="27"/><text x="1110" y="3216" textLength="119" lengthAdjust="spacingAndGlyphs">DataOnDemandSvc</text></g>
<g id="n_DataListenerSvc" class="n"><rect x="1049" y="3349.5" width="120" height="27"/><text x="1109" y="3368" textLength="99" lengthAdjust="spacingAndGlyphs">DataListenerSvc</text></g>
<g id="n_MultiStoreSvc" class="n"><rect x="1057" y="3450.5" width="104" height="27"/><text x="1109" y="3469" textLength="83" lengthAdjust="spacingAndGlyphs">MultiStoreSvc</text></g>
<g id="n_RndmEngine" class="n"><rect x="1059" y="3552.5" width="100" height="27"/><text x="1109" y="3571" textLength="79" lengthAdjust="spacingAndGlyphs">RndmEngine</text></g>
<g id="n_RndmGenSvc" class="n"><rect x="1057" y="3602.5" width="106" height="27"/><text x="1110" y="3621" textLength="85" lengthAdjust="spacingAndGlyphs">RndmGenSvc</text></g>
<g id="n_DataSvc" class="n"><rect x="1074" y="3653.5" width="70" height="27"/><text x="1109" y="3672" textLength="49" lengthAdjust="spacingAndGlyphs">DataSvc</text></g>
<g id="n_IAIDATupleSvc" class="n"><rect x="1055" y="3704.5" width="109" height="27"/><text x="1109.5" y="3723" textLength="88" lengthAdjust="spacingAndGlyphs">IAIDATupleSvc</text></g>
<g id="n_IHistogramSvc" class="n"><rect x="1055" y="3754.5" width="109" height="27"/><text x="1109.5" y="3773" textLength="88" lengthAdjust="spacingAndGlyphs">IHistogramSvc</text></g>
<g id="n_INTupleSvc" class="n"><rect x="1063" y="3805.5" width="93" height="27"/><text x="1109.5" y="3824" textLength="72" lengthAdjust="spacingAndGlyphs">INTupleSvc</text></g>
<g id="n_RunRecordStream" class="n"><rect x="1319" y="334.5" width="130" height="27"/><text x="1384" y="353" textLength="109" lengthAdjust="spacingAndGlyphs">RunRecordStream</text></g>
<g id="n_TagCollectionStream" class="n"><rect x="1311" y="385.5" width="146" height="27"/><text x="1384" y="404" textLength="125" lengthAdjust="spacingAndGlyphs">TagCollectionStream</text></g>
<g id="n_InputCopyStream" class="n"><rect x="1321" y="436.5" width="126" height="27"/><text x="1384" y="455" textLength="105" lengthAdjust="spacingAndGlyphs">InputCopyStream</text></g>
<g id="n_OutputFSRStream" class="n"><rect x="1319" y="486.5" width="132" height="27"/><text x="1385" y="505" textLength="111" lengthAdjust="spacingAndGlyphs">OutputFSRStream</text></g>
<g id="n_GaudiAlgorithm" class="n"><rect x="1328" y="740.5" width="114" height="27"/><text x="1385" y="759" textLength="93" lengthAdjust="spacingAndGlyphs">GaudiAlgorithm</text></g>
<g id="n_IEqSolver" class="n"><rect x="1344" y="866.5" width="80" height="27"/><text x="1384" y="885" textLength="59" lengthAdjust="spacingAndGlyphs">IEqSolver</text></g>
<g id="n_GFALDataStreamTool" class="n"><rect x="1308" y="917.5" width="152" height="27"/><text x="1384" y="936" textLength="131" lengthAdjust="spacingAndGlyphs">GFALDataStreamTool</text></g>
<g id="n_GaudiTool" class="n"><rect x="1344" y="1322.5" width="82" height="27"/><text x="1385" y="1341" textLength="61" lengthAdjust="spacingAndGlyphs">GaudiTool</text></g>
<g id="n_IErrorTool" class="n"><rect x="1344" y="1373.5" width="80" height="27"/><text x="1384" y="1392" textLength="59" lengthAdjust="spacingAndGlyphs">IErrorTool</text></g>
<g id="n_IFuncMinimum" class="n"><rect x="1329" y="1424.5" width="110" height="27"/><text x="1384" y="1443" textLength="89" lengthAdjust="spacingAndGlyphs">IFuncMinimum</text></g>
<g id="n_ISequencerTimerTool" class="n"><rect x="1311" y="1474.5" width="148" height="27"/><text x="1385" y="1493" textLength="127" lengthAdjust="spacingAndGlyphs">ISequencerTimerTool</text></g>
<g id="n_EventLoopMgr" class="n"><rect x="1331" y="1677.5" width="108" height="27"/><text x="1385" y="1696" textLength="87" lengthAdjust="spacingAndGlyphs">EventLoopMgr</text></g>
<g id="n_PoolDbCnvSvc" class="n"><rect x="1329" y="2538.5" width="111" height="27"/><text x="1384.5" y="2557" textLength="90" lengthAdjust="spacingAndGlyphs">PoolDbCnvSvc</text></g>
<g id="n_RootPersSvc" class="n"><rect x="1308" y="2589.5" width="153" height="27"/><text x="1384.5" y="2608" textLength="132" lengthAdjust="spacingAndGlyphs">RootHistCnv::PersSvc</text></g>
<g id="n_HbookConvSvc" class="n"><rect x="1312" y="2640.5" width="144" height="27"/><text x="1384" y="2659" textLength="123" lengthAdjust="spacingAndGlyphs">HbookCnv::ConvSvc</text></g>
<g id="n_HbookPersSvc" class="n"><rect x="1313" y="2690.5" width="142" height="27"/><text x="1384" y="2709" textLength="121" lengthAdjust="spacingAndGlyphs">HbookCnv::PersSvc</text></g>
<g id="n_DetPersistencySvc" class="n"><rect x="1317" y="2741.5" width="134" height="27"/><text x="1384" y="2760" textLength="113" lengthAdjust="spacingAndGlyphs">DetPersistencySvc</text></g>
<g id="n_EvtPersistencySvc" class="n"><rect x="1319" y="2792.5" width="132" height="27"/><text x="1385" y="2811" textLength="111" lengthAdjust="spacingAndGlyphs">EvtPersistencySvc</text></g>
<g id="n_HistogramPersistencySvc" class="n"><rect x="1297" y="2842.5" width="174" height="27"/><text x="1384" y="2861" textLength="153" lengthAdjust="spacingAndGlyphs">HistogramPersistencySvc</text></g>
<g id="n_HNTupleCnv" class="n"><rect x="1301" y="2893.5" width="168" height="27"/><text x="1385" y="2912" textLength="147" lengthAdjust="spacingAndGlyphs">HbookCnv::HNTupleCnv</text></g>
<g id="n_H1DCnv" class="n"><rect x="1313" y="2944.5" width="142" height="27"/><text x="1384" y="2963" textLength="121" lengthAdjust="spacingAndGlyphs">HbookCnv::H1DCnv</text></g>
<g id="n_H2DCnv" class="n"><rect x="1313" y="2994.5" width="142" height="27"/><text x="1384" y="3013" textLength="121" lengthAdjust="spacingAndGlyphs">HbookCnv::H2DCnv</text></g>
<g id="n_HDirectoryCnv" class="n"><rect x="1295" y="3045.5" width="178" height="27"/><text x="1384" y="3064" textLength="157" lengthAdjust="spacingAndGlyphs">HbookCnv::HDirectoryCnv</text></g>
<g id="n_PoolDbStatCnv" class="n"><rect x="1327" y="3096.5" width="113" height="27"/><text x="1383.5" y="3115" textLength="92" lengthAdjust="spacingAndGlyphs">PoolDbStatCnv</text></g>
<g id="n_PoolDbKeyedContainerCnv" class="n"><rect x="1293" y="3146.5" width="183" height="27"/><text x="1384.5" y="3165" textLength="162" lengthAdjust="spacingAndGlyphs">PoolDbKeyedContainerCnv</text></g>
<g id="n_RNTupleCnv" class="n"><rect x="1295" y="3197.5" width="178" height="27"/><text x="1384" y="3216" textLength="157" lengthAdjust="spacingAndGlyphs">RootHistCnv::RNTupleCnv</text></g>
<g id="n_RootDirectoryCnv" class="n"><rect x="1293" y="3248.5" width="183" height="27"/><text x="1384.5" y="3267" textLength="162" lengthAdjust="spacingAndGlyphs">RootHistCnv::DirectoryCnv</text></g>
<g id="n_RDirectoryCnv" class="n"><rect x="1289" y="3298.5" width="191" height="27"/><text x="1384.5" y="3317" textLength="170" lengthAdjust="spacingAndGlyphs">RootHistCnv::RDirectoryCnv</text></g>
<g id="n_RHistogramCnv" class="n"><rect x="1253" y="3349.5" width="262" height="27"/><text x="1384" y="3368" textLength="241" lengthAdjust="spacingAndGlyphs">RootHistCnv::RHistogramCnv&lt; T, S, Q &gt;</text></g>
<g id="n_FastContainersSvc" class="n"><rect x="1317" y="3399.5" width="134" height="27"/><text x="1384" y="3418" textLength="113" lengthAdjust="spacingAndGlyphs">FastContainersSvc</text></g>
<g id="n_RunRecordDataSvc" class="n"><rect x="1314" y="3450.5" width="139" height="27"/><text x="1383.5" y="3469" textLength="118" lengthAdjust="spacingAndGlyphs">RunRecordDataSvc</text></g>
<g id="n_DetDataSvc" class="n"><rect x="1337" y="3501.5" width="94" height="27"/><text x="1384" y="3520" textLength="73" lengthAdjust="spacingAndGlyphs">DetDataSvc</text></g>
<g id="n_BaseEngine" class="n"><rect x="1304" y="3552.5" width="161" height="27"/><text x="1384.5" y="3571" textLength="140" lengthAdjust="spacingAndGlyphs">HepRndm::BaseEngine</text></g>
<g id="n_EvtDataSvc" class="n"><rect x="1339" y="3653.5" width="92" height="27"/><text x="1385" y="3672" textLength="71" lengthAdjust="spacingAndGlyphs">EvtDataSvc</text></g>
<g id="n_AIDATupleSvc" class="n"><rect x="1332" y="3704.5" width="107" height="27"/><text x="1385.5" y="3723" textLength="86" lengthAdjust="spacingAndGlyphs">AIDATupleSvc</text></g>
<g id="n_HistogramSvc" class="n"><rect x="1332" y="3754.5" width="106" height="27"/><text x="1385" y="3773" textLength="85" lengthAdjust="spacingAndGlyphs">HistogramSvc</text></g>
<g id="n_NTupleSvc" class="n"><rect x="1341" y="3805.5" width="86" height="27"/><text x="1384" y="3824" textLength="65" lengthAdjust="spacingAndGlyphs">NTupleSvc</text></g>
<g id="n_GaudiSequencer" class="n"><rect x="1608" y="664.5" width="121" height="27"/><text x="1668.5" y="683" textLength="100" lengthAdjust="spacingAndGlyphs">GaudiSequencer</text></g>
<g id="n_Prescaler" class="n"><rect x="1629" y="714.5" width="79" height="27"/><text x="1668.5" y="733" textLength="58" lengthAdjust="spacingAndGlyphs">Prescaler</text></g>
<g id="n_GaudiHistosAlg" class="n"><rect x="1564" y="765.5" width="209" height="27"/><text x="1668.5" y="784" textLength="188" lengthAdjust="spacingAndGlyphs">GaudiHistos&lt; GaudiAlgorithm &gt;</text></g>
<g id="n_EqSolver" class="n"><rect x="1631" y="1069.5" width="77" height="27"/><text x="1669.5" y="1088" textLength="56" lengthAdjust="spacingAndGlyphs">EqSolver</text></g>
<g id="n_GaudiHistosTool" class="n"><rect x="1580" y="1322.5" width="177" height="27"/><text x="1668.5" y="1341" textLength="156" lengthAdjust="spacingAndGlyphs">GaudiHistos&lt; GaudiTool &gt;</text></g>
<g id="n_ErrorTool" class="n"><rect x="1631" y="1373.5" width="77" height="27"/><text x="1669.5" y="1392" textLength="56" lengthAdjust="spacingAndGlyphs">ErrorTool</text></g>
<g id="n_FuncMinimum" class="n"><rect x="1616" y="1424.5" width="105" height="27"/><text x="1668.5" y="1443" textLength="84" lengthAdjust="spacingAndGlyphs">FuncMinimum</text></g>
<g id="n_SequencerTimerTool" class="n"><rect x="1596" y="1474.5" width="145" height="27"/><text x="1668.5" y="1493" textLength="124" lengthAdjust="spacingAndGlyphs">SequencerTimerTool</text></g>
<g id="n_HRWNTupleCnv" class="n"><rect x="1575" y="2868.5" width="188" height="27"/><text x="1669" y="2887" textLength="167" lengthAdjust="spacingAndGlyphs">HbookCnv::HRWNTupleCnv</text></g>
<g id="n_HCWNTupleCnv" class="n"><rect x="1575" y="2918.5" width="188" height="27"/><text x="1669" y="2937" textLength="167" lengthAdjust="spacingAndGlyphs">HbookCnv::HCWNTupleCnv</text></g>
<g id="n_HFileCnv" class="n"><rect x="1596" y="2994.5" width="145" height="27"/><text x="1668.5" y="3013" textLength="124" lengthAdjust="spacingAndGlyphs">HbookCnv::HFileCnv</text></g>
<g id="n_HbookDirectoryCnv" class="n"><rect x="1584" y="3045.5" width="169" height="27"/><text x="1668.5" y="3064" textLength="148" lengthAdjust="spacingAndGlyphs">HbookCnv::DirectoryCnv</text></g>
<g id="n_PoolDbNTupleCnv" class="n"><rect x="1603" y="3096.5" width="130" height="27"/><text x="1668" y="3115" textLength="109" lengthAdjust="spacingAndGlyphs">PoolDbNTupleCnv</text></g>
<g id="n_PoolDbDirectoryCnv" class="n"><rect x="1596" y="3146.5" width="144" height="27"/><text x="1668" y="3165" textLength="123" lengthAdjust="spacingAndGlyphs">PoolDbDirectoryCnv</text></g>
<g id="n_RRWNTupleCnv" class="n"><rect x="1568" y="3197.5" width="200" height="27"/><text x="1668" y="3216" textLength="179" lengthAdjust="spacingAndGlyphs">RootHistCnv::RRWNTupleCnv</text></g>
<g id="n_RCWNTupleCnv" class="n"><rect x="1568" y="3248.5" width="200" height="27"/><text x="1668" y="3267" textLength="179" lengthAdjust="spacingAndGlyphs">RootHistCnv::RCWNTupleCnv</text></g>
<g id="n_RFileCnv" class="n"><rect x="1589" y="3298.5" width="158" height="27"/><text x="1668" y="3317" textLength="137" lengthAdjust="spacingAndGlyphs">RootHistCnv::RFileCnv</text></g>
<g id="n_Engine" class="n"><rect x="1573" y="3552.5" width="190" height="27"/><text x="1668" y="3571" textLength="169" lengthAdjust="spacingAndGlyphs">HepRndm::Engine&lt; TYPE &gt;</text></g>
<g id="n_TagCollectionSvc" class="n"><rect x="1605" y="3805.5" width="127" height="27"/><text x="1668.5" y="3824" textLength="106" lengthAdjust="spacingAndGlyphs">TagCollectionSvc</text></g>
<g id="n_GaudiHistoAlg" class="n"><rect x="1841" y="765.5" width="107" height="27"/><text x="1894.5" y="784" textLength="86" lengthAdjust="spacingAndGlyphs">GaudiHistoAlg</text></g>
<g id="n_GaudiHistoTool" class="n"><rect x="1840" y="1322.5" width="111" height="27"/><text x="1895.5" y="1341" textLength="90" lengthAdjust="spacingAndGlyphs">GaudiHistoTool</text></g>
<g id="n_IHistoTool" class="n"><rect x="1856" y="1449.5" width="79" height="27"/><text x="1895.5" y="1468" textLength="58" lengthAdjust="spacingAndGlyphs">IHistoTool</text></g>
<g id="n_PoolDbDatabaseCnv" class="n"><rect x="1823" y="3146.5" width="145" height="27"/><text x="1895.5" y="3165" textLength="124" lengthAdjust="spacingAndGlyphs">PoolDbDatabaseCnv</text></g>
<g id="n_GaudiTuplesAlg" class="n"><rect x="2019" y="765.5" width="204" height="27"/><text x="2121" y="784" textLength="183" lengthAdjust="spacingAndGlyphs">GaudiTuples&lt; GaudiHistoAlg &gt;</text></g>
<g id="n_GaudiTuplesTool" class="n"><rect x="2016" y="1094.5" width="208" height="27"/><text x="2120" y="1113" textLength="187" lengthAdjust="spacingAndGlyphs">GaudiTuples&lt; GaudiHistoTool &gt;</text></g>
<g id="n_HistoTool" class="n"><rect x="2083" y="1386.5" width="75" height="27"/><text x="2120.5" y="1405" textLength="54" lengthAdjust="spacingAndGlyphs">HistoTool</text></g>
<g id="n_GaudiTupleAlg" class="n"><rect x="2276" y="765.5" width="108" height="27"/><text x="2330" y="784" textLength="87" lengthAdjust="spacingAndGlyphs">GaudiTupleAlg</text></g>
<g id="n_ITupleTool" class="n"><rect x="2289" y="873.5" width="82" height="27"/><text x="2330" y="892" textLength="61" lengthAdjust="spacingAndGlyphs">ITupleTool</text></g>
<g id="n_GaudiTupleTool" class="n"><rect x="2274" y="1037.5" width="113" height="27"/><text x="2330.5" y="1056" textLength="92" lengthAdjust="spacingAndGlyphs">GaudiTupleTool</text></g>
<g id="n_TupleTool" class="n"><rect x="2435" y="956.5" width="80" height="27"/><text x="2475" y="975" textLength="59" lengthAdjust="spacingAndGlyphs">TupleTool</text></g>
</svg>
